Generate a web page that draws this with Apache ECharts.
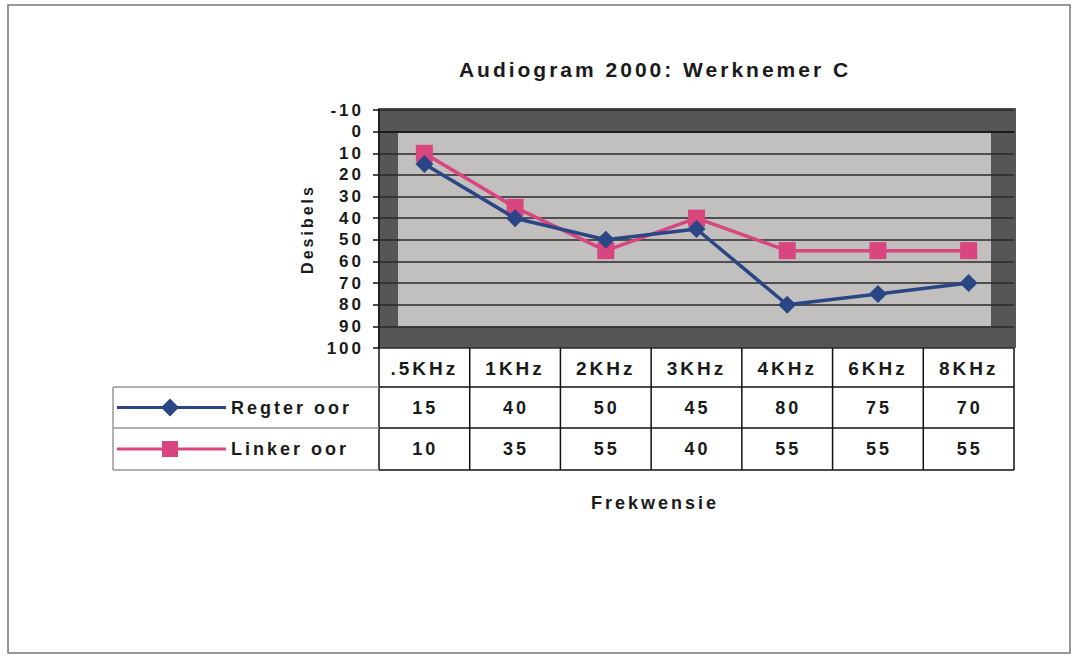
<!DOCTYPE html>
<html>
<head>
<meta charset="utf-8">
<script src="https://cdn.jsdelivr.net/npm/echarts@6/dist/echarts.min.js"></script>
<style>
  html, body { margin: 0; padding: 0; background: #fff; }
  #grafiek { width: 1077px; height: 657px; }
  /* ou Excel druk het wye letterspasiering */
  #grafiek text { letter-spacing: 3px; }
</style>
</head>
<body>
<div id="grafiek"></div>
<script>
// frekwensies en desibel waardes
const frekwensies = [".5KHz", "1KHz", "2KHz", "3KHz", "4KHz", "6KHz", "8KHz"];
const regterOor = [15, 40, 50, 45, 80, 75, 70];
const linkerOor = [10, 35, 55, 40, 55, 55, 55];
const reeksName = ["Regter oor", "Linker oor"];
const yTicks = [-10, 0, 10, 20, 30, 40, 50, 60, 70, 80, 90, 100];

const blou = "#2a4685";
const pienk = "#d8457f";
const font = "Liberation Sans, Arial, sans-serif";

let myChart = echarts.init(document.getElementById("grafiek"), null, { renderer: "svg" });

let option = {
  backgroundColor: "#fff",
  animation: false,
  title: [
    {
      text: "Audiogram 2000: Werknemer C",
      left: 650,
      top: 54,
      textAlign: "center",
      textStyle: { fontFamily: font, fontSize: 21, fontWeight: "bold", color: "#1a1a1a" }
    },
    {
      text: "Frekwensie",
      left: 650,
      top: 489,
      textAlign: "center",
      textStyle: { fontFamily: font, fontSize: 18, fontWeight: "bold", color: "#1a1a1a" }
    }
  ],
  grid: { left: 379, right: 63, top: 110, bottom: 309, containLabel: false },
  xAxis: {
    type: "category",
    data: frekwensies,
    boundaryGap: true,
    axisLine: { show: true, lineStyle: { color: "#111", width: 1.5 } },
    axisTick: { show: false },
    axisLabel: { margin: 11, fontFamily: font, fontSize: 19, fontWeight: "bold", color: "#1a1a1a" }
  },
  yAxis: {
    type: "value",
    inverse: true,
    min: yTicks[0],
    max: yTicks[yTicks.length - 1],
    interval: 10,
    axisLine: { show: true, lineStyle: { color: "#111", width: 1.5 } },
    axisTick: { show: true, inside: false, length: 6, lineStyle: { color: "#111", width: 1.5 } },
    axisLabel: { margin: 15, fontFamily: font, fontSize: 17, fontWeight: "bold", color: "#1a1a1a" },
    splitLine: { show: true, lineStyle: { color: "#2a2a2a", width: 1.5 } },
    name: "Desibels",
    nameLocation: "middle",
    nameGap: 64,
    nameRotate: 90,
    nameTextStyle: { fontFamily: font, fontSize: 16, fontWeight: "bold", color: "#1a1a1a" }
  },
  series: [
    {
      name: reeksName[0],
      type: "line",
      data: regterOor,
      symbol: "diamond",
      symbolSize: 18,
      itemStyle: { color: blou },
      lineStyle: { color: blou, width: 3.5 },
      z: 3
    },
    {
      name: reeksName[1],
      type: "line",
      data: linkerOor,
      symbol: "rect",
      symbolSize: 17,
      itemStyle: { color: pienk },
      lineStyle: { color: pienk, width: 3.5 },
      z: 2
    }
  ]
};

myChart.setOption(option);

// tabel en raam onder die grafiek
function tabelBou() {
  let graf = [];
  let bandW = (1077 - 63 - 379) / frekwensies.length;
  let x0 = myChart.convertToPixel({ xAxisIndex: 0 }, 0) - bandW / 2;
  let x1 = myChart.convertToPixel({ xAxisIndex: 0 }, frekwensies.length - 1) + bandW / 2;
  let yTop = myChart.convertToPixel({ yAxisIndex: 0 }, yTicks[yTicks.length - 1]);
  let yBo = myChart.convertToPixel({ yAxisIndex: 0 }, yTicks[0]);
  let y0 = myChart.convertToPixel({ yAxisIndex: 0 }, 0);
  let y90 = myChart.convertToPixel({ yAxisIndex: 0 }, 90);
  let ry1 = yTop + 39, ry2 = yTop + 80, ry3 = yTop + 122;
  let legL = 113;

  // buiteraam
  graf.push({ type: "rect", shape: { x: 8, y: 5, width: 1062, height: 648 },
    style: { fill: null, stroke: "#777", lineWidth: 1.5 }, z: -20 });
  // donker muur
  graf.push({ type: "rect", shape: { x: x0 - 1, y: yBo - 2, width: x1 - x0 + 3, height: yTop - yBo + 2 },
    style: { fill: "#565656" }, z: -10 });
  // ligte binnevlak
  graf.push({ type: "rect", shape: { x: x0 + 19, y: y0, width: x1 - x0 - 42, height: y90 - y0 },
    style: { fill: "#c2bfbf" }, z: -9 });

  let lyn = (xa, ya, xb, yb, kleur) => graf.push({ type: "line",
    shape: { x1: xa, y1: ya, x2: xb, y2: yb },
    style: { stroke: kleur || "#111", lineWidth: 1.5 }, z: 5 });

  // vertikale lyne
  for (let i = 0; i <= frekwensies.length; i++) {
    let x = x0 + i * bandW;
    lyn(x, yTop, x, ry3);
  }
  lyn(legL, ry1, legL, ry3, "#999");
  lyn(legL, ry1, x0, ry1, "#999");
  lyn(x0, ry1, x1, ry1);
  lyn(legL, ry2, x0, ry2, "#999");
  lyn(x0, ry2, x1, ry2);
  lyn(legL, ry3, x0, ry3, "#999");
  lyn(x0, ry3, x1, ry3);

  // waardes in die tabel
  let rye = [regterOor, linkerOor];
  let ryY = [(ry1 + ry2) / 2, (ry2 + ry3) / 2];
  rye.forEach((ry, r) => {
    ry.forEach((v, i) => {
      graf.push({ type: "text", x: myChart.convertToPixel({ xAxisIndex: 0 }, i) + 1, y: ryY[r],
        style: { text: String(v), fontFamily: font, fontSize: 18, fontWeight: "bold",
          fill: "#1a1a1a", align: "center", verticalAlign: "middle" }, z: 6 });
    });
  });

  // legende sleutels
  let kleure = [blou, pienk];
  let simbole = ["diamond", "rect"];
  reeksName.forEach((naam, r) => {
    let yy = ryY[r];
    graf.push({ type: "line", shape: { x1: 117, y1: yy, x2: 226, y2: yy },
      style: { stroke: kleure[r], lineWidth: 3 }, z: 6 });
    if (simbole[r] === "diamond") {
      graf.push({ type: "polygon", shape: { points: [[170, yy - 9], [179, yy], [170, yy + 9], [161, yy]] },
        style: { fill: kleure[r] }, z: 7 });
    } else {
      graf.push({ type: "rect", shape: { x: 162, y: yy - 8, width: 16, height: 16 },
        style: { fill: kleure[r] }, z: 7 });
    }
    graf.push({ type: "text", x: 231, y: yy,
      style: { text: naam, fontFamily: font, fontSize: 18, fontWeight: "bold",
        fill: "#1a1a1a", align: "left", verticalAlign: "middle" }, z: 7 });
  });

  myChart.setOption({ graphic: graf });
}

tabelBou();
</script>
</body>
</html>
